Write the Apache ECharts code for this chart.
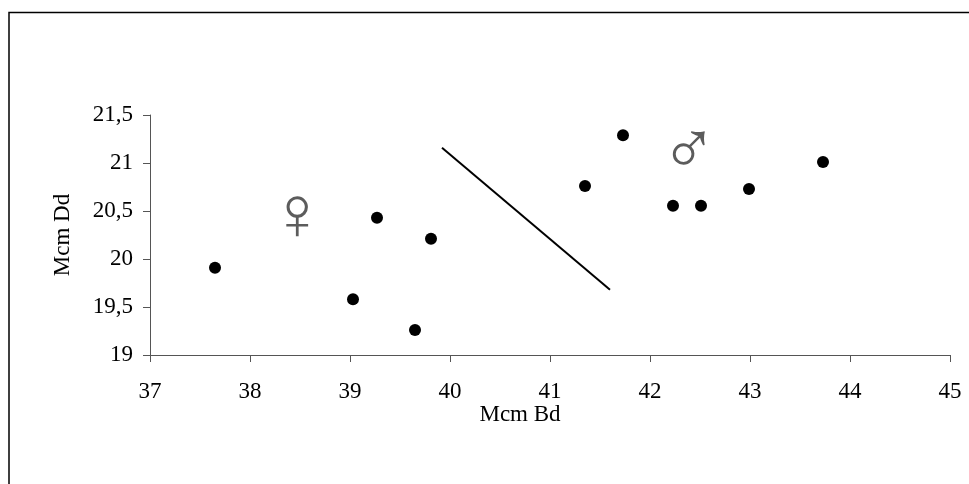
<!DOCTYPE html>
<html>
<head>
<meta charset="utf-8">
<script src="https://cdn.jsdelivr.net/npm/echarts@6/dist/echarts.min.js"></script>
<style>html,body{margin:0;padding:0;background:#fff;}#c{width:969px;height:484px;}</style>
</head>
<body>
<div id="c"></div>
<script>
const bdValues = [37.65, 39.03, 39.27, 39.65, 39.81, 41.35, 41.73, 42.23, 42.51, 42.99, 43.73];
const ddValues = [19.91, 19.58, 20.43, 19.26, 20.21, 20.76, 21.29, 20.555, 20.555, 20.73, 21.01];
const dividerX = [39.92, 41.60];
const dividerY = [21.16, 19.68];
const sexLabels = ['♀', '♂'];
const sexX = [38.47, 42.39];
const sexY = [20.41, 21.09];
const xTicks = [37, 38, 39, 40, 41, 42, 43, 44, 45];
const yTicks = [19, 19.5, 20, 20.5, 21, 21.5];

const font = 'Liberation Serif';
const fs = 23;
const chart = echarts.init(document.getElementById('c'), null, {renderer: 'canvas'});
const fmt = v => String(v).replace('.', ',');
chart.setOption({
  animation: false,
  backgroundColor: '#fff',
  grid: {left: 150, top: 115, width: 800, height: 240},
  xAxis: {
    type: 'value', min: xTicks[0], max: xTicks[xTicks.length - 1], interval: 1,
    name: 'Mcm Bd', nameLocation: 'middle', nameGap: 48,
    nameTextStyle: {fontFamily: font, fontSize: fs, color: '#000', padding: [0, 60, 0, 0]},
    axisLine: {show: true, lineStyle: {color: '#555', width: 1}},
    axisTick: {show: true, length: 7, lineStyle: {color: '#555'}},
    axisLabel: {fontFamily: font, fontSize: fs, color: '#000', margin: 25, formatter: fmt},
    splitLine: {show: false}
  },
  yAxis: {
    type: 'value', min: yTicks[0], max: yTicks[yTicks.length - 1], interval: 0.5,
    name: 'Mcm Dd', nameLocation: 'middle', nameGap: 76, nameRotate: 90,
    nameTextStyle: {fontFamily: font, fontSize: fs, color: '#000'},
    axisLine: {show: true, lineStyle: {color: '#555', width: 1}},
    axisTick: {show: true, length: 7, lineStyle: {color: '#555'}},
    axisLabel: {fontFamily: font, fontSize: fs, color: '#000', margin: 17, formatter: fmt},
    splitLine: {show: false}
  },
  graphic: [{
    type: 'rect', z: -1,
    shape: {x: 9, y: 12.5, width: 1000, height: 500},
    style: {fill: 'none', stroke: '#000', lineWidth: 1.5}
  }],
  series: [
    {
      type: 'scatter', symbol: 'circle', symbolSize: 12,
      itemStyle: {color: '#000', opacity: 1},
      data: bdValues.map((x, i) => [x, ddValues[i]])
    },
    {
      type: 'line', symbol: 'none', lineStyle: {color: '#000', width: 2},
      data: dividerX.map((x, i) => [x, dividerY[i]])
    },
    {
      type: 'scatter', symbol: 'circle', symbolSize: 1, silent: true,
      itemStyle: {color: 'rgba(0,0,0,0)'},
      label: {show: true, position: 'inside', formatter: p => p.data[2],
        fontFamily: 'DejaVu Sans', fontWeight: 200, fontSize: 76, color: '#333'},
      data: sexX.map((x, i) => [x, sexY[i], sexLabels[i]])
    }
  ]
});
</script>
</body>
</html>
